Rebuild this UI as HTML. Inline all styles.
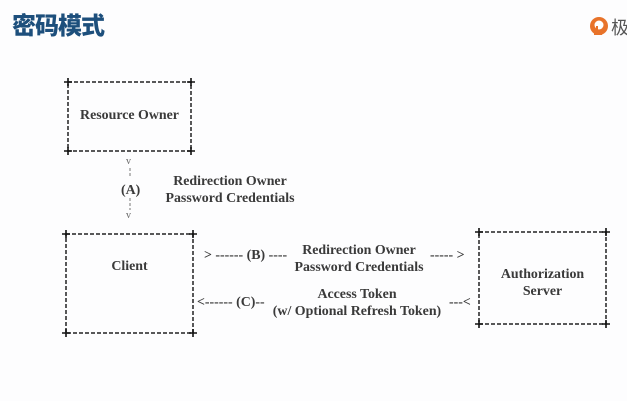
<!DOCTYPE html>
<html><head><meta charset="utf-8"><style>
html,body{margin:0;padding:0;background:#fdfdfe;}
body{width:627px;height:401px;position:relative;overflow:hidden;}
.t{position:absolute;font-family:"Liberation Serif",serif;font-weight:bold;font-size:13.9px;color:#3a3a3a;white-space:nowrap;text-align:center;line-height:16.5px;}
</style></head><body>
<div style="position:absolute;left:12px;top:12px;font-family:'Liberation Sans','Noto Sans CJK SC',sans-serif;font-weight:900;font-size:24px;color:#1d4f7c;letter-spacing:-1px;line-height:30px;">密码模式</div>
<svg style="position:absolute;left:0;top:0" width="627" height="401">
<g fill="none" stroke="#222" stroke-width="1.5" stroke-dasharray="4,2">
<rect x="68" y="82" width="123" height="69"/>
<rect x="66" y="234" width="127" height="99"/>
<rect x="479" y="232" width="127" height="92"/>
</g>
<g stroke="#111" stroke-width="1.6">
<path d="M64 82h8M68 78v8M187 82h8M191 78v8M64 151h8M68 147v8M187 151h8M191 147v8"/>
<path d="M62 234h8M66 230v8M189 234h8M193 230v8M62 333h8M66 329v8M189 333h8M193 329v8"/>
<path d="M475 232h8M479 228v8M602 232h8M606 228v8M475 324h8M479 320v8M602 324h8M606 320v8"/>
</g>
<g stroke="#777" stroke-width="1" stroke-dasharray="3,2" fill="none">
<path d="M130 168v10M130 198v12"/>
</g>
<circle cx="599" cy="26" r="9" fill="#e8732a"/>
<circle cx="599" cy="25" r="4.5" fill="#fff"/>
<path d="M597 26v6M594 34h8" stroke="#e8732a" stroke-width="2"/>
</svg>
<div style="position:absolute;left:611px;top:15px;font-family:'Noto Sans CJK SC',sans-serif;font-size:18px;color:#555;line-height:24px">极</div>
<div class="t" style="left:68px;top:108px;width:123px;">Resource Owner</div>
<div class="t" style="left:66px;top:259px;width:127px;">Client</div>
<div class="t" style="left:479px;top:267px;width:127px;">Authorization<br>Server</div>
<div class="t" style="left:126px;top:154px;font-weight:normal;font-size:10px;color:#666">v</div>
<div class="t" style="left:121px;top:183px;">(A)</div>
<div class="t" style="left:126px;top:208px;font-weight:normal;font-size:10px;color:#666">v</div>
<div class="t" style="left:160px;top:174px;width:140px;">Redirection Owner<br>Password Credentials</div>
<div class="t" style="left:204px;top:248px;">&gt; ------ (B) ----</div>
<div class="t" style="left:289px;top:243px;width:140px;">Redirection Owner<br>Password Credentials</div>
<div class="t" style="left:430px;top:248px;">----- &gt;</div>
<div class="t" style="left:197px;top:295px;">&lt;------ (C)--</div>
<div class="t" style="left:267px;top:287px;width:180px;">Access Token<br>(w/ Optional Refresh Token)</div>
<div class="t" style="left:449px;top:295px;">---&lt;</div>
</body></html>
